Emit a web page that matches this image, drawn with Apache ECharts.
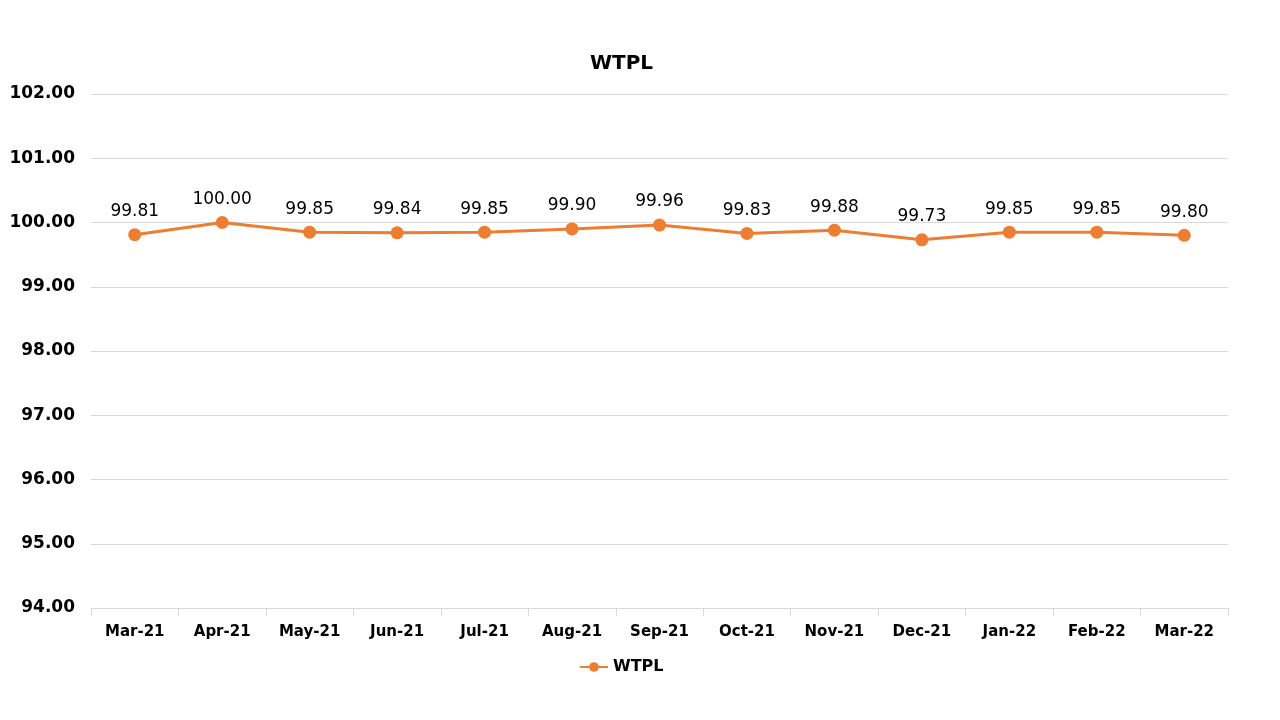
<!DOCTYPE html>
<html><head><meta charset="utf-8">
<script src="https://cdn.jsdelivr.net/npm/echarts@6/dist/echarts.min.js"></script>
<style>html,body{margin:0;padding:0;background:#fff}#c{width:1280px;height:720px}</style>
</head><body><div id="c"></div>
<script>
const categories = ['Mar-21','Apr-21','May-21','Jun-21','Jul-21','Aug-21','Sep-21','Oct-21','Nov-21','Dec-21','Jan-22','Feb-22','Mar-22'];
const wtpl = [99.81,100.00,99.85,99.84,99.85,99.90,99.96,99.83,99.88,99.73,99.85,99.85,99.80];
const seriesName = 'WTPL';
const chart = echarts.init(document.getElementById('c'));
const font = '"DejaVu Sans", sans-serif';
chart.setOption({
  backgroundColor: '#fff',
  animation: false,
  title: {text: 'WTPL', left: 585, top: 49, textStyle: {fontFamily: font, fontSize: 20, fontWeight: 'bold', color: '#000'}},
  legend: {top: 654, left: 574, itemWidth: 28, itemHeight: 12, itemGap: 6, data: [seriesName],
    textStyle: {fontFamily: font, fontSize: 16, fontWeight: 'bold', color: '#000'}},
  grid: {left: 91, right: 52, top: 94, bottom: 112},
  xAxis: {type: 'category', data: categories, boundaryGap: true,
    axisLine: {lineStyle: {color: '#d9d9d9'}}, axisTick: {show: true, length: 8, lineStyle: {color: '#d9d9d9'}},
    axisLabel: {fontFamily: font, fontSize: 15, fontWeight: 'bold', color: '#000', margin: 17}},
  yAxis: {type: 'value', min: 94, max: 102, interval: 1,
    axisLine: {show: false}, axisTick: {show: false},
    splitLine: {lineStyle: {color: '#d9d9d9'}},
    axisLabel: {fontFamily: font, fontSize: 17, fontWeight: 'bold', color: '#000', margin: 16, formatter: v => v.toFixed(2)}},
  series: [{name: seriesName, type: 'line', data: wtpl, color: '#ED7D31',
    symbol: 'circle', symbolSize: 13, lineStyle: {width: 3},
    label: {show: true, position: 'top', distance: 8, fontFamily: font, fontSize: 17, fontWeight: 'normal', color: '#000', formatter: p => p.value.toFixed(2)}}]
});
</script></body></html>
